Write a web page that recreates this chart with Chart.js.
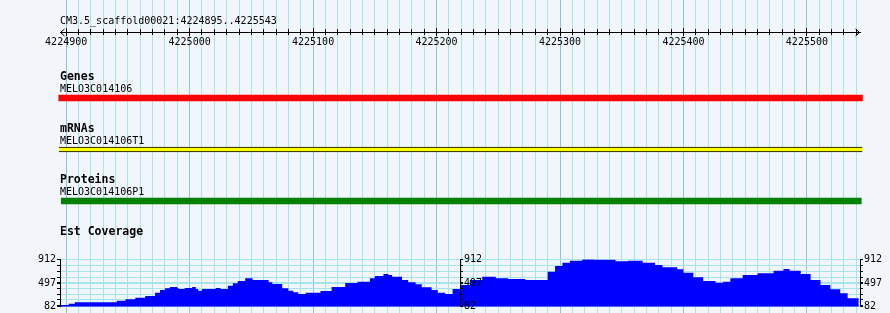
<!DOCTYPE html>
<html><head><meta charset="utf-8">
<style>
html,body{margin:0;padding:0;background:#f2f6fb;overflow:hidden}
canvas{display:block}
</style>
<script src="https://cdn.jsdelivr.net/npm/chart.js@4"></script>
</head><body>
<canvas id="c" width="890" height="313"></canvas>
<script>
// ---------- data ----------
const regionLabel = 'CM3.5_scaffold00021:4224895..4225543';
const viewStart = 4224895;
const viewEnd = 4225543;
const rulerMajor = [4224900, 4225000, 4225100, 4225200, 4225300, 4225400, 4225500];
const rulerMinorStep = 10;

const trackTitles = ['Genes', 'mRNAs', 'Proteins'];
const featureNames = ['MELO3C014106', 'MELO3C014106T1', 'MELO3C014106P1'];
const featureStarts = [4224894, 4224894, 4224896];
const featureEnds = [4225545, 4225545, 4225544];

const coverageTitle = 'Est Coverage';
const covSegmentStarts = [4224895, 4225219];
const covPos = [4224895, 4224902, 4224907, 4224941, 4224948, 4224956, 4224964, 4224972, 4224976, 4224980,
  4224984, 4224990, 4224991, 4224996, 4225002, 4225005, 4225007, 4225010, 4225021, 4225025,
  4225031, 4225035, 4225039, 4225045, 4225051, 4225064, 4225067, 4225075, 4225080, 4225084,
  4225088, 4225094, 4225106, 4225115, 4225126, 4225136, 4225146, 4225150, 4225157, 4225161,
  4225164, 4225172, 4225177, 4225183, 4225188, 4225196, 4225201, 4225207, 4225213, 4225219,
  4225227, 4225237, 4225248, 4225258, 4225272, 4225290, 4225296, 4225302, 4225308, 4225318,
  4225328, 4225345, 4225355, 4225367, 4225377, 4225383, 4225395, 4225400, 4225408, 4225416,
  4225426, 4225432, 4225438, 4225448, 4225460, 4225473, 4225481, 4225486, 4225495, 4225503,
  4225511, 4225519, 4225527, 4225533, 4225537, 4225542];
const covVal = [94, 112, 135, 159, 187, 212, 240, 269, 327, 374,
  404, 427, 409, 392, 409, 427, 392, 362, 392, 409,
  392, 450, 492, 532, 579, 549, 509, 480, 404, 362,
  334, 304, 327, 357, 427, 497, 520, 579, 620, 655,
  637, 607, 549, 509, 474, 422, 374, 327, 304, 392,
  462, 549, 607, 579, 567, 549, 695, 795, 852, 887,
  908, 905, 880, 885, 850, 812, 772, 737, 678, 597,
  532, 502, 520, 579, 637, 666, 712, 741, 712, 655,
  549, 462, 387, 317, 229, 229];
const covMin = 82;
const covMax = 912;
const covAxisLabels = [82, 497, 912];
const covMinorTicks = [100, 200, 300, 400, 500, 600, 700, 800, 900];

// ---------- styles ----------
const BG = '#f2f6fb';
const GRID_MINOR = '#a4e6ee';
const GRID_MAJOR = '#88c6e6';
const trackFill = ['#ff0000', '#ffff00', '#008000'];
const trackBorder = [0, {top: 1, bottom: 1, left: 0, right: 0}, 0];
const trackThickness = [6, 5, 6];
const MONO = '"DejaVu Sans Mono", "Liberation Mono", monospace';

Chart.defaults.font.family = MONO;
Chart.defaults.font.size = 10;
Chart.defaults.color = '#000';

const zeroH = s => { s.height = 0; };
const zeroW = s => { s.width = 0; };
const rulerTicks = s => {
  const t = [];
  for (let v = Math.ceil(viewStart / rulerMinorStep) * rulerMinorStep; v <= viewEnd; v += rulerMinorStep) t.push({value: v});
  s.ticks = t;
};
const majorTicks = s => { s.ticks = rulerMajor.map(v => ({value: v})); };
const covTicks = s => {
  s.ticks = [...covMinorTicks, ...covAxisLabels].sort((a, b) => a - b).map(v => ({value: v}));
};
const covLabel = v => covAxisLabels.includes(v) ? String(v) : '';

function rulerAxis(position, tl, labels, buildTicks) {
  return {
    type: 'linear', position, min: viewStart, max: viewEnd, offset: false,
    afterBuildTicks: buildTicks, afterFit: zeroH,
    ticks: labels ? {display: true, autoSkip: false, maxRotation: 0, minRotation: 0, padding: 1, z: 2,
      callback: v => rulerMajor.includes(v) ? String(v) : ''} : {display: false},
    grid: {offset: false, drawOnChartArea: false, drawTicks: true, tickLength: tl, tickColor: '#000', tickWidth: 1, z: 1},
    border: {display: true, color: '#000', width: 1, z: 1}
  };
}
function covAxis(position, onArea) {
  return {
    type: 'linear', position, min: covMin, max: covMax, offset: false,
    afterBuildTicks: covTicks, afterFit: zeroW,
    ticks: {autoSkip: false, padding: 1, callback: covLabel, z: 2},
    grid: {offset: false, drawOnChartArea: onArea, color: GRID_MINOR, drawTicks: true, tickLength: 3,
      tickColor: '#000', tickWidth: 1, z: onArea ? -1 : 1},
    border: {display: true, color: '#000', width: 1, z: 1}
  };
}

const placer = {
  id: 'placer',
  afterLayout(chart) {
    const S = chart.scales;
    const L = 60, R = 860;
    Object.assign(chart.chartArea, {left: L, right: R, top: 0, bottom: 313, width: R - L, height: 313});
    const set = (s, l, t, r, b) => {
      s.left = l; s.top = t; s.right = r; s.bottom = b; s.width = r - l; s.height = b - t; s.configure();
    };
    set(S.xGrid, L, 313, R, 313);
    set(S.xTop, L, 20, R, 32);
    set(S.xTopMaj, L, 20, R, 32);
    set(S.xBot, L, 32, R, 50);
    set(S.xBotMaj, L, 32, R, 50);
    set(S.yTracks, 0, 72.25, 890, 226.75);
    const cTop = 259.3, cBot = 306.7;
    set(S.yCov, 0, cTop, L, cBot);
    const mid = S.xGrid.getPixelForValue(covSegmentStarts[1]);
    set(S.yMid, mid, cTop, mid + 30, cBot);
    const endPx = S.xGrid.getPixelForValue(viewEnd);
    set(S.yRight, endPx, cTop, 890, cBot);
  }
};

const deco = {
  id: 'deco',
  beforeDraw(chart) {
    const ctx = chart.ctx;
    ctx.save(); ctx.fillStyle = BG; ctx.fillRect(0, 0, chart.width, chart.height); ctx.restore();
  },
  afterDraw(chart) {
    const ctx = chart.ctx, S = chart.scales;
    ctx.save();
    ctx.fillStyle = '#000';
    ctx.textAlign = 'left';
    ctx.textBaseline = 'alphabetic';
    ctx.font = '10px ' + MONO;
    ctx.fillText(regionLabel, 60, 24);
    // ruler arrowheads
    const y = 32.5;
    const xl = S.xTop.left, xr = S.xTop.right;
    ctx.strokeStyle = '#000'; ctx.lineWidth = 1;
    ctx.beginPath();
    ctx.moveTo(xl + 4.5, y - 3.5); ctx.lineTo(xl + 0.5, y); ctx.lineTo(xl + 4.5, y + 3.5);
    ctx.moveTo(xr - 4.5, y - 3.5); ctx.lineTo(xr - 0.5, y); ctx.lineTo(xr - 4.5, y + 3.5);
    ctx.stroke();
    // track labels
    trackTitles.forEach((t, i) => {
      const yc = S.yTracks.getPixelForValue(i);
      ctx.font = 'bold 11.5px ' + MONO;
      ctx.fillText(t, 60, yc - 18);
      ctx.font = '10px ' + MONO;
      ctx.fillText(featureNames[i], 60, yc - 6);
    });
    ctx.font = 'bold 11.5px ' + MONO;
    ctx.fillText(coverageTitle, 60, S.yCov.top - 24);
    ctx.restore();
  }
};

const datasets = trackTitles.map((t, i) => ({
  type: 'bar', indexAxis: 'y', xAxisID: 'xGrid', yAxisID: 'yTracks',
  data: [{x: [featureStarts[i], featureEnds[i]], y: t}],
  backgroundColor: trackFill[i], borderColor: '#000', borderWidth: trackBorder[i],
  borderSkipped: false, barThickness: trackThickness[i], grouped: false, clip: false
}));
datasets.push({
  type: 'line', xAxisID: 'xGrid', yAxisID: 'yCov',
  data: covPos.map((x, i) => ({x, y: covVal[i]})),
  stepped: 'after', fill: 'start', backgroundColor: '#0000ff',
  borderColor: 'rgba(0,0,0,0)', borderWidth: 1, pointRadius: 0, tension: 0
});

new Chart(document.getElementById('c'), {
  type: 'bar',
  data: {datasets},
  options: {
    responsive: false, animation: false, devicePixelRatio: 1,
    layout: {padding: {left: 60, right: 30, top: 0, bottom: 0}, autoPadding: false},
    plugins: {legend: {display: false}, tooltip: {enabled: false}, title: {display: false}},
    events: [],
    scales: {
      xGrid: {
        type: 'linear', position: 'bottom', min: viewStart, max: viewEnd, offset: false,
        afterBuildTicks: rulerTicks, afterFit: zeroH,
        ticks: {display: false},
        grid: {offset: false, drawTicks: false, lineWidth: 1, z: -1,
          color: c => (c.tick && rulerMajor.includes(c.tick.value)) ? GRID_MAJOR : GRID_MINOR},
        border: {display: false}
      },
      xTop: rulerAxis('top', 3, false, rulerTicks),
      xTopMaj: rulerAxis('top', 4, false, majorTicks),
      xBot: rulerAxis('bottom', 3, true, rulerTicks),
      xBotMaj: rulerAxis('bottom', 4, false, majorTicks),
      yTracks: {type: 'category', labels: trackTitles, offset: true, display: false, afterFit: zeroW},
      yCov: covAxis('left', true),
      yMid: covAxis('right', false),
      yRight: covAxis('right', false)
    }
  },
  plugins: [placer, deco]
});
</script>
</body></html>
